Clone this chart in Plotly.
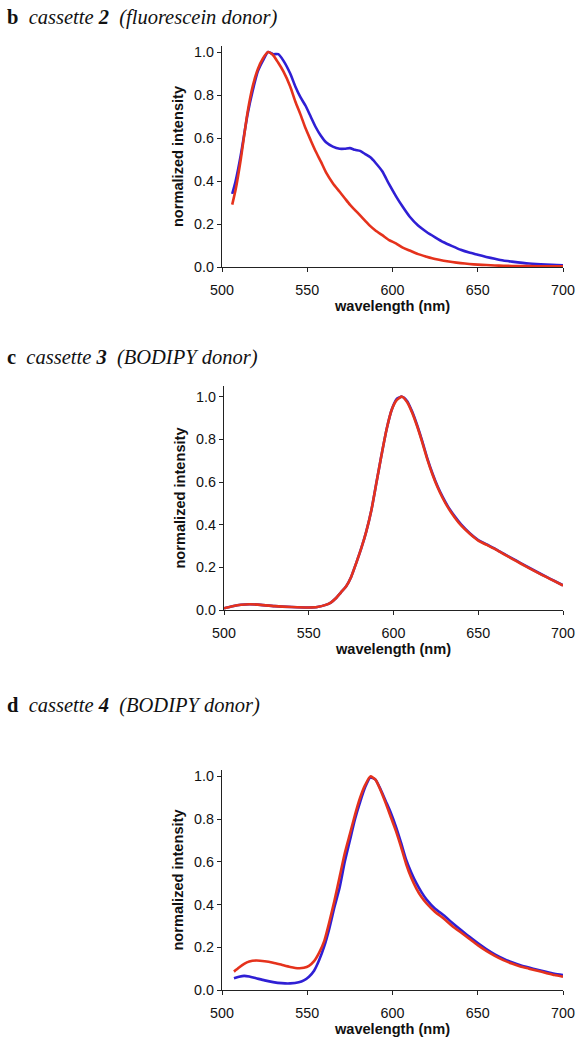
import plotly.graph_objects as go

# ---------------- data ----------------
wl_b = [506, 508, 511, 515, 518, 521, 524, 527, 530, 533, 536, 540, 543, 546, 549,
        552, 555, 558, 561, 565, 569, 572, 575, 578, 581, 584, 587, 590, 594, 598,
        602, 606, 610, 615, 620, 625, 630, 635, 640, 645, 650, 655, 660, 665, 670,
        680, 690, 700]
blue_b = [0.34, 0.40, 0.52, 0.71, 0.82, 0.91, 0.96, 1.0, 0.99, 0.99, 0.96, 0.90, 0.84,
          0.79, 0.75, 0.70, 0.65, 0.61, 0.58, 0.56, 0.55, 0.55, 0.553, 0.545, 0.54,
          0.525, 0.51, 0.485, 0.445, 0.385, 0.33, 0.28, 0.235, 0.193, 0.163, 0.138, 0.115,
          0.097, 0.08, 0.067, 0.057, 0.047, 0.038, 0.03, 0.025, 0.016, 0.011, 0.008]
red_b = [0.29, 0.36, 0.50, 0.72, 0.84, 0.92, 0.97, 1.0, 0.985, 0.95, 0.91, 0.84, 0.77,
         0.71, 0.645, 0.59, 0.537, 0.49, 0.44, 0.39, 0.35, 0.32, 0.29, 0.265, 0.24,
         0.215, 0.19, 0.17, 0.148, 0.125, 0.11, 0.09, 0.077, 0.06, 0.048, 0.037, 0.029,
         0.023, 0.018, 0.014, 0.011, 0.009, 0.007, 0.006, 0.005, 0.004, 0.003, 0.003]

wl_c = [500, 505, 510, 515, 520, 530, 540, 550, 555, 560, 563, 566, 569, 572, 575,
        578, 581, 584, 587, 590, 593, 596, 599, 602, 605, 608, 611, 614, 617, 620,
        623, 626, 629, 632, 636, 640, 645, 650, 655, 660, 665, 670, 675, 680, 685,
        690, 695, 700]
blue_c = [0.008, 0.018, 0.025, 0.027, 0.025, 0.018, 0.014, 0.012, 0.014, 0.024, 0.035,
          0.055, 0.083, 0.11, 0.155, 0.22, 0.29, 0.37, 0.47, 0.6, 0.73, 0.85, 0.94,
          0.99, 1.0, 0.98, 0.93, 0.865, 0.79, 0.71, 0.64, 0.58, 0.53, 0.487, 0.44,
          0.4, 0.36, 0.328, 0.307, 0.287, 0.264, 0.242, 0.22, 0.198, 0.177, 0.156,
          0.136, 0.116]
red_c = [0.008, 0.018, 0.025, 0.027, 0.025, 0.018, 0.014, 0.012, 0.014, 0.024, 0.035,
         0.055, 0.083, 0.11, 0.155, 0.22, 0.29, 0.37, 0.47, 0.6, 0.73, 0.85, 0.94,
         0.985, 1.0, 0.975, 0.925, 0.86, 0.785, 0.705, 0.635, 0.575, 0.525, 0.482, 0.435,
         0.395, 0.357, 0.325, 0.305, 0.285, 0.262, 0.24, 0.218, 0.196, 0.175, 0.155,
         0.135, 0.115]

wl_d = [507, 510, 513, 516, 520, 525, 530, 535, 540, 545, 548, 551, 554, 557, 560,
        563, 566, 569, 572, 575, 578, 581, 584, 587, 590, 593, 596, 599, 602, 605,
        608, 611, 614, 617, 620, 625, 630, 635, 640, 645, 650, 655, 660, 665, 670,
        675, 680, 685, 690, 695, 700]
blue_d = [0.055, 0.062, 0.066, 0.063, 0.055, 0.045, 0.037, 0.032, 0.031, 0.036, 0.045,
          0.062, 0.09, 0.14, 0.205, 0.29, 0.39, 0.48, 0.6, 0.7, 0.8, 0.88, 0.95, 0.995,
          0.985, 0.94, 0.885, 0.83, 0.765, 0.69, 0.61, 0.55, 0.5, 0.458, 0.423, 0.38,
          0.35, 0.315, 0.282, 0.25, 0.22, 0.192, 0.167, 0.147, 0.13, 0.116, 0.105, 0.095,
          0.085, 0.076, 0.07]
red_d = [0.086, 0.105, 0.122, 0.133, 0.138, 0.135, 0.128, 0.118, 0.108, 0.102, 0.104,
         0.113, 0.135, 0.175, 0.23, 0.32, 0.42, 0.53, 0.64, 0.73, 0.82, 0.9, 0.96, 1.0,
         0.985, 0.935, 0.875, 0.81, 0.745, 0.67, 0.59, 0.525, 0.475, 0.435, 0.405, 0.365,
         0.335, 0.3, 0.27, 0.24, 0.21, 0.183, 0.16, 0.14, 0.124, 0.11, 0.1, 0.09, 0.08,
         0.07, 0.062]

x_ticks = [500, 550, 600, 650, 700]
y_ticks = [0.0, 0.2, 0.4, 0.6, 0.8, 1.0]
titles = ["<b>b</b>&nbsp;&nbsp;<i>cassette <b>2</b>&nbsp;&nbsp;(fluorescein donor)</i>",
          "<b>c</b>&nbsp;&nbsp;<i>cassette <b>3</b>&nbsp;&nbsp;(BODIPY donor)</i>",
          "<b>d</b>&nbsp;&nbsp;<i>cassette <b>4</b>&nbsp;&nbsp;(BODIPY donor)</i>"]
x_title = "wavelength (nm)"
y_title = "normalized intensity"

BLUE = "#2f1fd4"
RED = "#e5321c"
W, H = 583, 1050

# panel geometry in pixels: (x0, x1, y_bottom, y_top, ymax, title_y)
panels = [
    (222, 563, 267, 46, 1.028, 17),
    (224, 563, 610, 386, 1.05, 357),
    (222, 563, 990, 770, 1.03, 705),
]
series = [(wl_b, blue_b, red_b), (wl_c, blue_c, red_c), (wl_d, blue_d, red_d)]

fig = go.Figure()
annotations = []
for i, ((x0, x1, yb, yt, ymax, ty), (wl, bl, rd)) in enumerate(zip(panels, series)):
    n = "" if i == 0 else str(i + 1)
    fig.add_trace(go.Scatter(x=wl, y=bl, mode="lines", line=dict(color=BLUE, width=2.6, shape="spline", smoothing=0.6),
                             xaxis="x" + n, yaxis="y" + n, showlegend=False))
    fig.add_trace(go.Scatter(x=wl, y=rd, mode="lines", line=dict(color=RED, width=2.6, shape="spline", smoothing=0.6),
                             xaxis="x" + n, yaxis="y" + n, showlegend=False))
    common = dict(showline=True, linecolor="#222", linewidth=1.4, ticks="outside",
                  ticklen=4, tickwidth=1.2, tickcolor="#222", showgrid=False, zeroline=False,
                  automargin=False,
                  tickfont=dict(family="Liberation Sans, Arial", size=14.3, color="#111"))
    tfont = dict(family="Liberation Sans, Arial", size=14.6, color="#111")
    fig.update_layout(**{
        "xaxis" + n: dict(domain=[x0 / W, x1 / W], range=[500, 700], tickvals=x_ticks,
                          anchor="y" + n, ticklabelstandoff=6,
                          title=dict(text="<b>" + x_title + "</b>", standoff=2, font=tfont),
                          **common),
        "yaxis" + n: dict(domain=[1 - yb / H, 1 - yt / H], range=[0, ymax], tickvals=y_ticks,
                          tickformat=".1f", anchor="x" + n,
                          title=dict(text="<b>" + y_title + "</b>", standoff=6, font=tfont),
                          **common),
    })
    annotations.append(dict(text=titles[i], x=5 / W, y=1 - ty / H, xref="paper", yref="paper",
                            xanchor="left", yanchor="middle", showarrow=False,
                            font=dict(family="Liberation Serif, Times New Roman", size=20.5, color="#111")))

fig.update_layout(width=W, height=H, margin=dict(l=0, r=0, t=0, b=0, autoexpand=False),
                  paper_bgcolor="white", plot_bgcolor="white", annotations=annotations)
fig.write_html("out.html", config={"displayModeBar": False},
               post_script="document.body.style.margin='0';document.body.style.padding='0';")
